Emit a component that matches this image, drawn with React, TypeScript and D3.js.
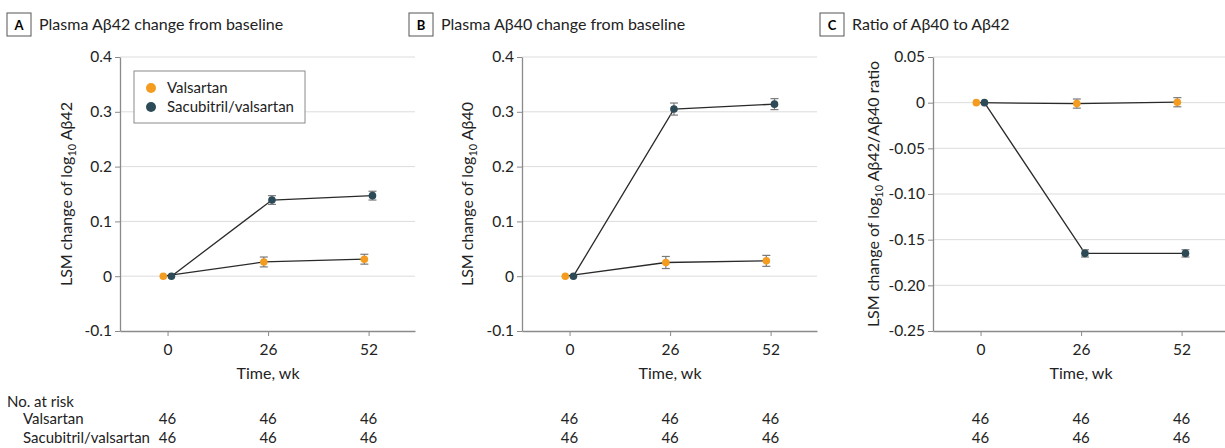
import React, { useEffect, useRef } from 'react';
import * as d3 from 'd3';

const weeks = [0, 26, 52];
const seriesNames = ['Valsartan', 'Sacubitril/valsartan'];
const atRisk = [
  [46, 46, 46],
  [46, 46, 46],
];

const titles = ['Plasma Aβ42 change from baseline', 'Plasma Aβ40 change from baseline', 'Ratio of Aβ40 to Aβ42'];
const letters = ['A', 'B', 'C'];
const yLabelPre = ['LSM change of log', 'LSM change of log', 'LSM change of log'];
const yLabelPost = [' Aβ42', ' Aβ40', ' Aβ42/Aβ40 ratio'];

// panel A
const a42Valsartan = [0, 0.026, 0.031];
const a42ValsartanErr = [0, 0.009, 0.009];
const a42Sacubitril = [0, 0.139, 0.147];
const a42SacubitrilErr = [0, 0.008, 0.008];
const a42Ticks = [-0.1, 0, 0.1, 0.2, 0.3, 0.4];

// panel B
const a40Valsartan = [0, 0.025, 0.028];
const a40ValsartanErr = [0, 0.011, 0.01];
const a40Sacubitril = [0, 0.305, 0.314];
const a40SacubitrilErr = [0, 0.011, 0.01];
const a40Ticks = [-0.1, 0, 0.1, 0.2, 0.3, 0.4];

// panel C
const ratioValsartan = [0, -0.001, 0.0005];
const ratioValsartanErr = [0, 0.005, 0.005];
const ratioSacubitril = [0, -0.165, -0.165];
const ratioSacubitrilErr = [0, 0.004, 0.004];
const ratioTicks = [-0.25, -0.2, -0.15, -0.1, -0.05, 0, 0.05];

const COLORS = ['#f39c1f', '#2c4b57'];
const FONT = 'Lato, "Open Sans", sans-serif';

// plain hyphen for negatives, like the original
const fmt = (digits: number) => (v: number) => (v === 0 ? '0' : v.toFixed(digits));

const panels = [
  { left: 120, labelOff: 48, ticks: a42Ticks, fmt: fmt(1), series: [[a42Valsartan, a42ValsartanErr], [a42Sacubitril, a42SacubitrilErr]] },
  { left: 522, labelOff: 49, ticks: a40Ticks, fmt: fmt(1), series: [[a40Valsartan, a40ValsartanErr], [a40Sacubitril, a40SacubitrilErr]] },
  { left: 933, labelOff: 54, ticks: ratioTicks, fmt: fmt(2), series: [[ratioValsartan, ratioValsartanErr], [ratioSacubitril, ratioSacubitrilErr]] },
];

const App = () => {
  const svgRef = useRef(null);

  useEffect(() => {
    const svg = d3.select(svgRef.current);
    svg.selectAll('*').remove();

    const top = 57, bottom = 331, plotW = 295;
    const dodge = [-1.1, 1.0];

    panels.forEach((p, pi) => {
      const ext = d3.extent(p.ticks) as [number, number];
      const x = d3.scaleLinear().domain([-12.3, 64]).range([p.left, p.left + plotW]);
      const y = d3.scaleLinear().domain(ext).range([bottom, top]);
      const g = svg.append('g');

      // title
      g.append('rect')
        .attr('x', p.left - 113).attr('y', 13).attr('width', 24).attr('height', 23)
        .attr('fill', 'white').attr('stroke', '#555').attr('stroke-width', 1);
      g.append('text')
        .attr('x', p.left - 101).attr('y', 30)
        .attr('text-anchor', 'middle').attr('font-weight', 'bold').attr('font-size', 13)
        .text(letters[pi]);
      g.append('text')
        .attr('x', p.left - 81).attr('y', 30)
        .attr('font-size', 16).attr('fill', '#222')
        .text(titles[pi]);

      // grid
      g.selectAll('.grid')
        .data(p.ticks.slice(1))
        .enter().append('line')
        .attr('x1', p.left).attr('x2', p.left + plotW)
        .attr('y1', d => y(d)).attr('y2', d => y(d))
        .attr('stroke', '#dcdcdc').attr('stroke-width', 1);

      // y axis
      const yAxis = g.append('g')
        .attr('transform', `translate(${p.left},0)`)
        .call(d3.axisLeft(y).tickValues(p.ticks).tickFormat(p.fmt as any).tickSize(5).tickSizeOuter(0).tickPadding(3));
      yAxis.selectAll('text').attr('font-size', 15.5).attr('fill', '#222').attr('font-family', FONT);

      // x axis
      const xAxis = g.append('g')
        .attr('transform', `translate(0,${bottom})`)
        .call(d3.axisBottom(x).tickValues(weeks).tickFormat(d3.format('d')).tickSize(5).tickSizeOuter(0).tickPadding(8));
      xAxis.selectAll('text').attr('font-size', 15.5).attr('fill', '#222').attr('font-family', FONT);

      [yAxis, xAxis].forEach(ax => {
        ax.select('.domain').attr('stroke', '#8a8a8a').attr('stroke-width', 1.3);
        ax.selectAll('.tick line').attr('stroke', '#8a8a8a');
      });

      g.append('text')
        .attr('x', x(26)).attr('y', 379)
        .attr('text-anchor', 'middle').attr('font-size', 16).attr('fill', '#222')
        .text('Time, wk');

      const yl = g.append('text')
        .attr('transform', `translate(${p.left - p.labelOff},${(top + bottom) / 2}) rotate(-90)`)
        .attr('text-anchor', 'middle').attr('font-size', 16).attr('fill', '#222');
      yl.append('tspan').text(yLabelPre[pi]);
      yl.append('tspan').attr('font-size', 11).attr('dy', 4).text('10');
      yl.append('tspan').attr('dy', -4).text(yLabelPost[pi]);

      // series
      p.series.forEach(([vals, errs], si) => {
        const pts = weeks.map((w, i) => ({ x: x(w + dodge[si]), v: vals[i], e: errs[i] }));
        g.append('path')
          .attr('d', d3.line<any>().x(d => d.x).y(d => y(d.v))(pts))
          .attr('fill', 'none').attr('stroke', '#2a2a2a').attr('stroke-width', 1.3);
        pts.filter(d => d.e > 0).forEach(d => {
          const eg = g.append('g').attr('stroke', '#7a7a7a').attr('stroke-width', 1.2);
          eg.append('line').attr('x1', d.x).attr('x2', d.x).attr('y1', y(d.v - d.e)).attr('y2', y(d.v + d.e));
          eg.append('line').attr('x1', d.x - 4).attr('x2', d.x + 4).attr('y1', y(d.v - d.e)).attr('y2', y(d.v - d.e));
          eg.append('line').attr('x1', d.x - 4).attr('x2', d.x + 4).attr('y1', y(d.v + d.e)).attr('y2', y(d.v + d.e));
        });
        g.selectAll(null)
          .data(pts)
          .enter().append('circle')
          .attr('cx', d => d.x).attr('cy', d => y(d.v)).attr('r', 3.8)
          .attr('fill', COLORS[si]);
      });

      // numbers at risk
      atRisk.forEach((row, ri) => {
        g.selectAll(null)
          .data(row)
          .enter().append('text')
          .attr('x', (d, i) => x(weeks[i])).attr('y', 424 + ri * 19)
          .attr('text-anchor', 'middle').attr('font-size', 15).attr('fill', '#222')
          .text(d => d);
      });

      // legend
      if (pi === 0) {
        const lg = g.append('g');
        lg.append('rect')
          .attr('x', 134).attr('y', 71).attr('width', 171).attr('height', 52)
          .attr('fill', 'white').attr('stroke', '#8a8a8a').attr('stroke-width', 1);
        seriesNames.forEach((name, i) => {
          lg.append('circle').attr('cx', 151).attr('cy', 88 + i * 19).attr('r', 5).attr('fill', COLORS[i]);
          lg.append('text').attr('x', 167).attr('y', 93 + i * 19)
            .attr('font-size', 15).attr('fill', '#222').text(name);
        });
      }
    });

    const risk = svg.append('g').attr('font-size', 15).attr('fill', '#222');
    risk.append('text').attr('x', 7).attr('y', 407).text('No. at risk');
    seriesNames.forEach((name, i) => {
      risk.append('text').attr('x', 23).attr('y', 424 + i * 19).text(name);
    });
  }, []);

  return (
    <svg
      ref={svgRef}
      width={1225}
      height={448}
      style={{ position: 'absolute', left: 0, top: 0, background: 'white', fontFamily: FONT }}
    ></svg>
  );
};

export default App;
